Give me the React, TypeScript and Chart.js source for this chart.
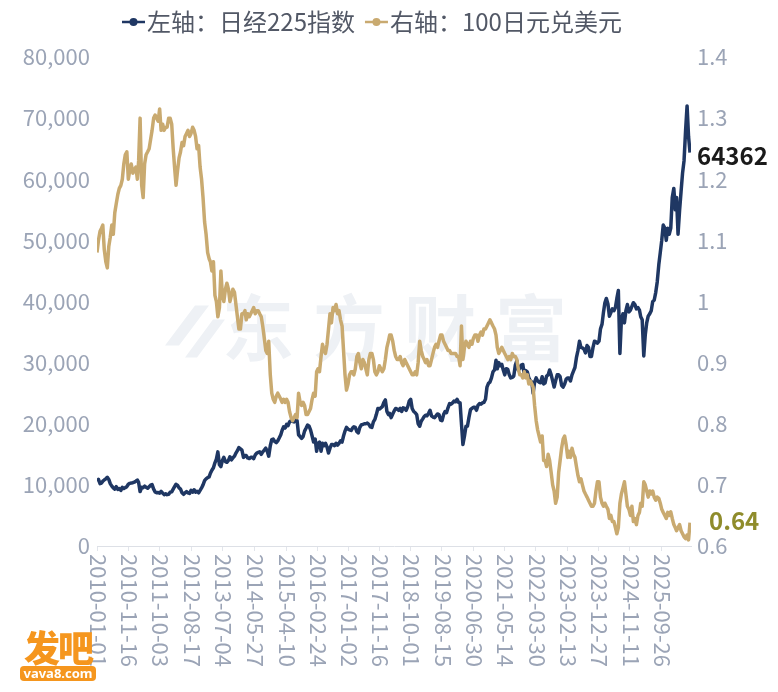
import React, { useEffect, useRef } from 'react';
import { Chart, registerables } from 'chart.js';

Chart.register(...registerables);

const FONT = '"Noto Sans CJK SC", "Noto Sans", sans-serif';
const NAVY = '#1f3763';
const GOLD = '#c9aa70';
const TICK_COLOR = '#9ba4b6';
const LEGEND_COLOR = '#525866';

const seriesNames = ['左轴：日经225指数', '右轴：100日元兑美元'];

const tickDates = [
  '2010-01-01', '2010-11-16', '2011-10-03', '2012-08-17', '2013-07-04',
  '2014-05-27', '2015-04-10', '2016-02-24', '2017-01-02', '2017-11-16',
  '2018-10-01', '2019-08-15', '2020-06-30', '2021-05-14', '2022-03-30',
  '2023-02-13', '2023-12-27', '2024-11-11', '2025-09-26',
];

const leftTicks = [0, 10000, 20000, 30000, 40000, 50000, 60000, 70000, 80000];
const rightTicks = [0.6, 0.7, 0.8, 0.9, 1.0, 1.1, 1.2, 1.3, 1.4];

// Semi-monthly samples (1st and 16th of each month) starting 2010-01-01
const nikkeiValues = [
  10600, 10900, 10200, 10300, 10600, 10800, 11000, 11250, 10900, 10200, 9800, 9500, 9300, 9700, 9250, 9400, 9100, 9600, 9400, 9550, 9700, 10100, 10250, 10300,
  10350, 10450, 10600, 10800, 10400, 8900, 9600, 9550, 9800, 9600, 9450, 9700, 9950, 10050, 9300, 8850, 8700, 8750, 8650, 8950, 8650, 8400, 8550, 8400,
  8450, 8800, 8850, 9300, 9700, 10100, 9900, 9500, 9300, 8700, 8450, 8700, 8900, 8700, 8600, 9100, 8800, 9200, 8800, 8950, 8700, 9100, 9500, 10000,
  10700, 11000, 11200, 11300, 11900, 12400, 12800, 13600, 14200, 15400, 13300, 13000, 14000, 14500, 13800, 13700, 14000, 14600, 14100, 14400, 14700, 15200, 15600, 16100,
  15900, 15700, 14500, 14800, 14800, 14400, 14300, 14500, 14500, 14300, 14900, 15200, 15300, 15400, 15000, 15400, 15700, 16000, 15500, 14700, 16400, 17400, 17500, 17100,
  16900, 17200, 17700, 18200, 18900, 19500, 19300, 19900, 19700, 20300, 20500, 20400, 20300, 20600, 20500, 18200, 17900, 17600, 17900, 18800, 19300, 19800, 19600, 19000,
  18000, 17000, 17500, 15500, 16800, 17000, 15500, 16800, 16400, 16800, 16200, 15200, 16000, 16600, 16600, 16400, 16800, 16500, 16800, 17200, 17000, 18000, 18800, 19400,
  19100, 19000, 18900, 19300, 19500, 19400, 18700, 18500, 19400, 19800, 19900, 20000, 20000, 20100, 19900, 19500, 19400, 20300, 20700, 21500, 22500, 22400, 22600, 22800,
  23500, 23900, 22000, 21500, 21700, 21000, 21600, 22100, 22500, 22400, 22200, 22500, 22000, 22600, 22500, 22200, 22800, 23700, 24000, 22500, 22000, 21800, 21500, 20000,
  19600, 20400, 20800, 21200, 21400, 21300, 21700, 22200, 21300, 21100, 21000, 21300, 21600, 21500, 20600, 20500, 21500, 22000, 21800, 22600, 23300, 23200, 23400, 23700,
  23600, 24000, 23500, 23400, 20000, 16600, 18000, 19600, 19600, 21000, 22300, 22500, 22700, 22700, 22200, 23000, 23300, 23200, 23400, 23500, 24000, 26000, 26600, 26800,
  27500, 28500, 28800, 30400, 29000, 30000, 29500, 29700, 28800, 28000, 29000, 28900, 28000, 27500, 27600, 27800, 29600, 30300, 28800, 29000, 29600, 29700, 28000, 28700,
  28500, 27500, 27000, 26800, 25000, 26800, 27500, 27000, 26800, 26700, 27700, 26500, 26700, 27800, 28000, 28800, 28000, 27000, 26000, 27000, 28000, 28000, 27700, 26300,
  26000, 26500, 27300, 27500, 27500, 27000, 28000, 28600, 29200, 30800, 32000, 33500, 32500, 32400, 32200, 31600, 32800, 32500, 31000, 31000, 32500, 33500, 33400, 33200,
  33500, 35500, 36300, 38300, 39800, 40500, 39600, 37600, 38200, 38800, 38500, 39000, 40500, 41800, 31500, 37000, 38000, 36500, 38500, 39500, 38300, 38600, 39200, 39800,
  39500, 38800, 39000, 38600, 37500, 37000, 31100, 34500, 36500, 37600, 38000, 38500, 40000, 40200, 41500, 43200, 46000, 48000, 50000, 52500, 52000, 50000, 52000, 51000,
  52000, 57000, 58500, 55000, 57000, 51000, 55000, 58000, 61000, 63000, 68000, 72000, 67000, 64362,
];

const yenValues = [
  1.080, 1.100, 1.115, 1.120, 1.125, 1.085, 1.065, 1.055, 1.090, 1.105, 1.125, 1.110, 1.145, 1.160, 1.175, 1.185, 1.190, 1.200, 1.225, 1.240, 1.245, 1.200, 1.215, 1.225,
  1.210, 1.215, 1.220, 1.200, 1.230, 1.300, 1.190, 1.170, 1.225, 1.240, 1.245, 1.250, 1.265, 1.280, 1.300, 1.305, 1.300, 1.295, 1.315, 1.280, 1.290, 1.280, 1.285, 1.285,
  1.300, 1.300, 1.290, 1.250, 1.220, 1.190, 1.215, 1.235, 1.245, 1.260, 1.255, 1.270, 1.275, 1.280, 1.270, 1.275, 1.285, 1.280, 1.270, 1.250, 1.255, 1.220, 1.200, 1.170,
  1.130, 1.110, 1.080, 1.070, 1.065, 1.050, 1.065, 1.010, 1.000, 0.975, 0.990, 1.050, 1.010, 1.000, 1.020, 1.030, 1.020, 1.000, 1.010, 1.020, 1.015, 0.995, 0.975, 0.955,
  0.955, 0.980, 0.980, 0.985, 0.970, 0.980, 0.975, 0.980, 0.985, 0.990, 0.980, 0.985, 0.985, 0.980, 0.975, 0.960, 0.940, 0.920, 0.915, 0.935, 0.880, 0.850, 0.840, 0.835,
  0.845, 0.850, 0.845, 0.840, 0.835, 0.840, 0.835, 0.840, 0.835, 0.820, 0.810, 0.805, 0.810, 0.815, 0.810, 0.850, 0.835, 0.830, 0.835, 0.830, 0.815, 0.815, 0.820, 0.825,
  0.840, 0.850, 0.845, 0.885, 0.890, 0.885, 0.910, 0.930, 0.920, 0.915, 0.930, 0.955, 0.980, 0.965, 0.990, 0.985, 0.995, 0.980, 0.985, 0.970, 0.960, 0.920, 0.880, 0.855,
  0.865, 0.880, 0.885, 0.885, 0.880, 0.890, 0.910, 0.915, 0.900, 0.890, 0.905, 0.900, 0.890, 0.880, 0.905, 0.915, 0.915, 0.905, 0.885, 0.880, 0.885, 0.895, 0.890, 0.885,
  0.890, 0.905, 0.925, 0.935, 0.945, 0.945, 0.935, 0.920, 0.910, 0.905, 0.905, 0.910, 0.900, 0.895, 0.905, 0.900, 0.895, 0.890, 0.885, 0.880, 0.880, 0.885, 0.880, 0.900,
  0.935, 0.920, 0.910, 0.905, 0.900, 0.905, 0.895, 0.895, 0.905, 0.915, 0.925, 0.930, 0.925, 0.935, 0.945, 0.945, 0.935, 0.930, 0.925, 0.920, 0.920, 0.915, 0.915, 0.915,
  0.915, 0.910, 0.910, 0.895, 0.960, 0.905, 0.925, 0.935, 0.930, 0.925, 0.935, 0.930, 0.940, 0.945, 0.945, 0.935, 0.945, 0.950, 0.945, 0.955, 0.955, 0.960, 0.965, 0.970,
  0.965, 0.960, 0.955, 0.945, 0.925, 0.915, 0.920, 0.925, 0.920, 0.915, 0.910, 0.905, 0.910, 0.905, 0.915, 0.910, 0.910, 0.905, 0.890, 0.880, 0.880, 0.875, 0.885, 0.875,
  0.880, 0.865, 0.870, 0.865, 0.860, 0.830, 0.805, 0.790, 0.780, 0.770, 0.780, 0.740, 0.740, 0.730, 0.750, 0.740, 0.720, 0.700, 0.690, 0.670, 0.680, 0.720, 0.740, 0.760,
  0.775, 0.780, 0.765, 0.745, 0.755, 0.745, 0.760, 0.750, 0.745, 0.730, 0.715, 0.705, 0.710, 0.700, 0.690, 0.685, 0.680, 0.675, 0.670, 0.665, 0.665, 0.670, 0.690, 0.705,
  0.705, 0.680, 0.670, 0.665, 0.670, 0.665, 0.660, 0.645, 0.650, 0.640, 0.640, 0.630, 0.620, 0.630, 0.670, 0.685, 0.695, 0.705, 0.685, 0.665, 0.660, 0.650, 0.665, 0.640,
  0.645, 0.635, 0.650, 0.655, 0.670, 0.665, 0.705, 0.700, 0.690, 0.680, 0.690, 0.685, 0.690, 0.680, 0.675, 0.680, 0.678, 0.670, 0.660, 0.655, 0.650, 0.645, 0.655, 0.650,
  0.656, 0.645, 0.635, 0.630, 0.625, 0.630, 0.635, 0.625, 0.620, 0.615, 0.612, 0.618, 0.610, 0.638,
];

const START = Date.UTC(2010, 0, 1);
const DAY = 86400000;
const X_MAX = 6050;

function dayIndex(s: string): number {
  const [y, m, d] = s.split('-').map(Number);
  return (Date.UTC(y, m - 1, d) - START) / DAY;
}

function sampleDay(i: number): number {
  const y = 2010 + Math.floor(i / 24);
  const m = Math.floor((i % 24) / 2);
  const d = i % 2 === 0 ? 1 : 16;
  return (Date.UTC(y, m, d) - START) / DAY;
}

function fmtLeft(v: number): string {
  return Math.round(v).toLocaleString('en-US');
}

function fmtRight(v: number): string {
  return String(parseFloat(Number(v).toFixed(1)));
}

const decorPlugin = {
  id: 'decor',
  beforeDatasetsDraw(chart: any) {
    const ctx = chart.ctx;
    const area = chart.chartArea;
    ctx.save();
    // faint watermark
    ctx.fillStyle = '#eef1f5';
    ctx.font = `bold 72px ${FONT}`;
    ctx.textAlign = 'center';
    ctx.textBaseline = 'middle';
    const chars = ['东', '方', '财', '富'];
    const cx = (area.left + area.right) / 2 - 24;
    const cy = area.top + (area.bottom - area.top) * 0.553;
    chars.forEach((c, i) => {
      ctx.fillText(c, cx - 112 + i * 91, cy);
    });
    // swoosh logo
    ctx.beginPath();
    const lx = cx - 195;
    ctx.moveTo(lx - 10, cy + 18);
    ctx.lineTo(lx + 20, cy - 22);
    ctx.lineTo(lx + 34, cy - 22);
    ctx.lineTo(lx + 4, cy + 18);
    ctx.closePath();
    ctx.moveTo(lx + 10, cy + 30);
    ctx.lineTo(lx + 38, cy - 8);
    ctx.lineTo(lx + 50, cy - 8);
    ctx.lineTo(lx + 22, cy + 30);
    ctx.closePath();
    ctx.fill();
    ctx.restore();
  },
  afterDraw(chart: any) {
    const ctx = chart.ctx;
    const area = chart.chartArea;
    const xs = chart.scales.x;
    const ys = chart.scales.y;
    const ys1 = chart.scales.y1;
    ctx.save();

    // x tick labels, rotated clockwise (read top to bottom)
    ctx.font = `22px ${FONT}`;
    ctx.fillStyle = TICK_COLOR;
    ctx.textAlign = 'left';
    ctx.textBaseline = 'middle';
    xs.ticks.forEach((t: any, i: number) => {
      const px = xs.getPixelForValue(t.value);
      ctx.save();
      ctx.translate(px + 1, area.bottom + 8);
      ctx.rotate(Math.PI / 2);
      ctx.fillText(tickDates[i], 0, 0);
      ctx.restore();
    });

    // legend
    const colors = [NAVY, GOLD];
    let lx = 122;
    const ly = 22;
    ctx.font = `24px ${FONT}`;
    seriesNames.forEach((name, i) => {
      ctx.strokeStyle = colors[i];
      ctx.fillStyle = colors[i];
      ctx.lineWidth = 2.5;
      ctx.beginPath();
      ctx.moveTo(lx, ly);
      ctx.lineTo(lx + 23, ly);
      ctx.stroke();
      ctx.beginPath();
      ctx.arc(lx + 11.5, ly, 4, 0, Math.PI * 2);
      ctx.fill();
      ctx.fillStyle = LEGEND_COLOR;
      ctx.textAlign = 'left';
      ctx.textBaseline = 'middle';
      ctx.fillText(name, lx + 25, ly);
      lx += 25 + ctx.measureText(name).width + 10;
    });

    // end value labels
    const lastN = nikkeiValues[nikkeiValues.length - 1];
    const lastY = yenValues[yenValues.length - 1];
    ctx.textAlign = 'left';
    ctx.textBaseline = 'middle';
    ctx.font = `bold 24px ${FONT}`;
    ctx.fillStyle = '#1a1a1a';
    ctx.fillText(String(lastN), area.right + 6, ys.getPixelForValue(lastN) + 3);
    const yenLabel = lastY.toFixed(2);
    ctx.fillStyle = '#8f8c2b';
    ctx.fillText(yenLabel, area.right + 18, ys1.getPixelForValue(Number(yenLabel)) - 1);
    ctx.restore();
  },
};

export default function App() {
  const canvasRef = useRef<HTMLCanvasElement | null>(null);

  useEffect(() => {
    const canvas = canvasRef.current;
    if (!canvas) return;
    const chart = new Chart(canvas, {
      type: 'line',
      data: {
        datasets: [
          {
            label: seriesNames[0],
            data: nikkeiValues.map((v, i) => ({ x: sampleDay(i), y: v })),
            yAxisID: 'y',
            borderColor: NAVY,
            backgroundColor: NAVY,
            borderWidth: 3.5,
            borderJoinStyle: 'round',
            pointRadius: 0,
            tension: 0,
            order: 1,
          },
          {
            label: seriesNames[1],
            data: yenValues.map((v, i) => ({ x: sampleDay(i), y: v })),
            yAxisID: 'y1',
            borderColor: GOLD,
            backgroundColor: GOLD,
            borderWidth: 3.5,
            borderJoinStyle: 'round',
            pointRadius: 0,
            tension: 0,
            order: 0,
          },
        ],
      },
      options: {
        responsive: false,
        animation: false,
        devicePixelRatio: 1,
        layout: { padding: { top: 57, left: 0, right: 0, bottom: 0 } },
        plugins: {
          legend: { display: false },
          tooltip: { enabled: false },
        },
        scales: {
          x: {
            type: 'linear',
            min: 0,
            max: X_MAX,
            afterBuildTicks: (scale: any) => {
              scale.ticks = tickDates.map((d) => ({ value: dayIndex(d) }));
            },
            afterFit: (scale: any) => {
              scale.height = 146;
            },
            ticks: { display: false },
            grid: {
              drawOnChartArea: false,
              drawTicks: true,
              tickLength: 5,
              color: '#e2e5eb',
            },
            border: { color: '#dde0e6', width: 1 },
          },
          y: {
            position: 'left',
            min: 0,
            max: 80000,
            afterBuildTicks: (scale: any) => {
              scale.ticks = leftTicks.map((v) => ({ value: v }));
            },
            afterFit: (scale: any) => {
              scale.width = 97;
            },
            ticks: {
              callback: (v: any) => fmtLeft(Number(v)),
              color: TICK_COLOR,
              font: { family: FONT, size: 22 },
              padding: 7,
            },
            grid: { display: false, drawTicks: false },
            border: { display: false },
          },
          y1: {
            position: 'right',
            min: 0.6,
            max: 1.4,
            afterBuildTicks: (scale: any) => {
              scale.ticks = rightTicks.map((v) => ({ value: v }));
            },
            afterFit: (scale: any) => {
              scale.width = 87;
            },
            ticks: {
              callback: (v: any) => fmtRight(Number(v)),
              color: TICK_COLOR,
              font: { family: FONT, size: 22 },
              padding: 6,
            },
            grid: { display: false, drawTicks: false },
            border: { display: false },
          },
        },
      },
      plugins: [decorPlugin],
    } as any);
    return () => chart.destroy();
  }, []);

  return (
    <div
      style={{
        position: 'fixed',
        left: 0,
        top: 0,
        width: 778,
        height: 692,
        background: '#ffffff',
        overflow: 'hidden',
      }}
    >
      <canvas ref={canvasRef} width={778} height={692} style={{ display: 'block', width: 778, height: 692 }} />
      <div style={{ position: 'absolute', left: 20, top: 626, fontFamily: FONT }}>
        <div
          style={{
            fontSize: 36,
            fontWeight: 900,
            color: '#f5961e',
            lineHeight: '40px',
            letterSpacing: -2,
            paddingLeft: 4,
          }}
        >
          发吧
        </div>
        <div
          style={{
            marginTop: 0,
            background: '#f5961e',
            color: '#ffffff',
            borderRadius: 4,
            fontSize: 13,
            fontWeight: 700,
            lineHeight: '15px',
            width: 76,
            textAlign: 'center',
            fontFamily: '"Noto Sans", sans-serif',
          }}
        >
          vava8.com
        </div>
      </div>
    </div>
  );
}
